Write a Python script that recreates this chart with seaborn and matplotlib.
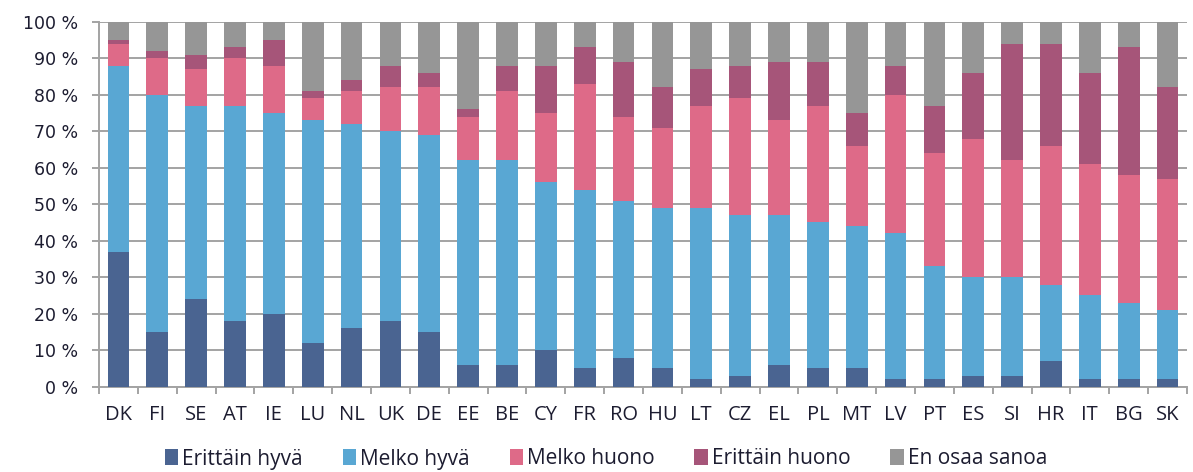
import matplotlib
matplotlib.use("Agg")
import matplotlib.pyplot as plt
import seaborn as sns
import numpy as np
from matplotlib.patches import Patch

countries = ["DK", "FI", "SE", "AT", "IE", "LU", "NL", "UK", "DE", "EE", "BE", "CY", "FR", "RO",
             "HU", "LT", "CZ", "EL", "PL", "MT", "LV", "PT", "ES", "SI", "HR", "IT", "BG", "SK"]
erittain_hyva = [37, 15, 24, 18, 20, 12, 16, 18, 15, 6, 6, 10, 5, 8, 5, 2, 3, 6, 5, 5, 2, 2, 3, 3, 7, 2, 2, 2]
melko_hyva = [51, 65, 53, 59, 55, 61, 56, 52, 54, 56, 56, 46, 49, 43, 44, 47, 44, 41, 40, 39, 40, 31, 27, 27, 21, 23, 21, 19]
melko_huono = [6, 10, 10, 13, 13, 6, 9, 12, 13, 12, 19, 19, 29, 23, 22, 28, 32, 26, 32, 22, 38, 31, 38, 32, 38, 36, 35, 36]
erittain_huono = [1, 2, 4, 3, 7, 2, 3, 6, 4, 2, 7, 13, 10, 15, 11, 10, 9, 16, 12, 9, 8, 13, 18, 32, 28, 25, 35, 25]
en_osaa = [5, 8, 9, 7, 5, 19, 16, 12, 14, 24, 12, 12, 7, 11, 18, 13, 12, 11, 11, 25, 12, 23, 14, 6, 6, 14, 7, 18]

series_names = ["Erittäin hyvä", "Melko hyvä", "Melko huono", "Erittäin huono", "En osaa sanoa"]
colors = ["#4A6491", "#59A7D3", "#DE6A88", "#A65579", "#969696"]
yticks = [0, 10, 20, 30, 40, 50, 60, 70, 80, 90, 100]
ytick_labels = [f"{v} %" for v in yticks]

sns.set_style("white")
plt.rcParams["font.family"] = ["Open Sans", "DejaVu Sans"]

fig = plt.figure(figsize=(11.93, 4.72), dpi=100)
ax = fig.add_axes([99 / 1193, 1 - 386.7 / 472, (1187 - 99) / 1193, (386.7 - 21.7) / 472])

layers = [erittain_hyva, melko_hyva, melko_huono, erittain_huono, en_osaa]
cum = np.cumsum(np.array(layers, dtype=float), axis=0)
# draw from top (largest cumulative) down so lower segments overlay
for i in range(len(layers) - 1, -1, -1):
    sns.barplot(x=countries, y=cum[i], color=colors[i], width=0.56, ax=ax,
                saturation=1, linewidth=0, zorder=3)

ax.set_ylim(0, 100)
ax.set_xlim(-0.5, len(countries) - 0.5)
ax.set_yticks(yticks)
ax.set_yticklabels(ytick_labels, family=["DejaVu Sans"])
ax.yaxis.grid(True, color="#a3a3a3", linewidth=1.4, zorder=0)
ax.set_axisbelow(True)
for s in ["top", "right"]:
    ax.spines[s].set_visible(False)
for s in ["left", "bottom"]:
    ax.spines[s].set_visible(True)
    ax.spines[s].set_color("#a3a3a3")
    ax.spines[s].set_linewidth(1.4)

text_color = "#1c1c30"
ax.tick_params(axis="y", length=5, width=1.4, color="#a3a3a3", labelsize=12.5,
               labelcolor=text_color, pad=10, left=True)
ax.tick_params(axis="x", length=0, labelsize=14.5, labelcolor=text_color, pad=13)
ax.set_xticks(np.arange(-0.5, len(countries), 1.0), minor=True)
ax.tick_params(axis="x", which="minor", length=5, width=1.4, color="#a3a3a3", bottom=True)
ax.set_xlabel("")
ax.set_ylabel("")

handles = [Patch(facecolor=c, edgecolor="none") for c in colors]
fig.legend(handles, series_names, loc="center", bbox_to_anchor=(0.508, 1 - 459 / 472),
           ncol=5, frameon=False, fontsize=15, handlelength=0.65, handleheight=0.8,
           handletextpad=0.2, columnspacing=1.9, labelcolor=text_color,
           borderaxespad=0, borderpad=0)

fig.savefig("out.png", dpi=100)
